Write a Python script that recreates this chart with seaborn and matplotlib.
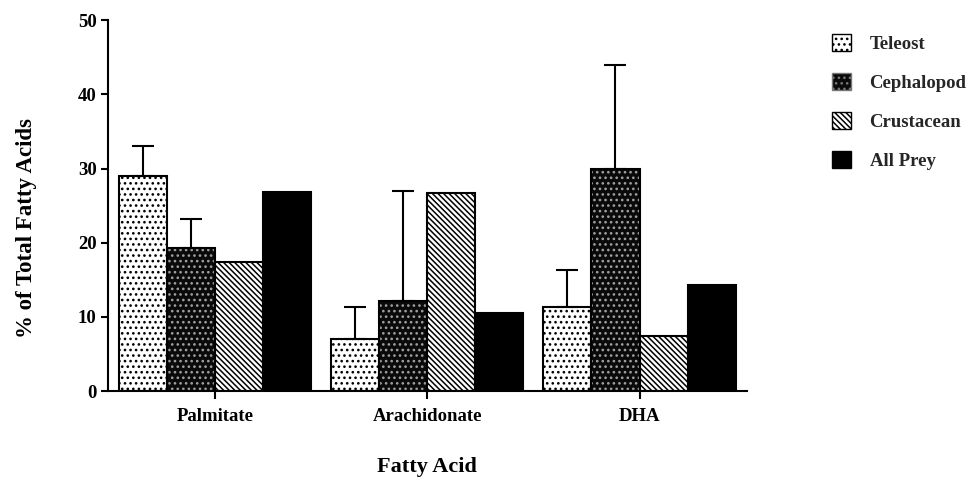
import numpy as np
import pandas as pd
import matplotlib
matplotlib.use("Agg")
import matplotlib.pyplot as plt
import seaborn as sns
from matplotlib.patches import Patch, Rectangle

# ---- data ----
acids = ["Palmitate", "Arachidonate", "DHA"]
prey = ["Teleost", "Cephalopod", "Crustacean", "All Prey"]
teleost = [29.0, 7.0, 11.4]
cephalopod = [19.3, 12.1, 30.0]
crustacean = [17.4, 26.7, 7.4]
all_prey = [26.8, 10.5, 14.3]
teleost_err = [4.0, 4.3, 4.9]
cephalopod_err = [3.9, 14.9, 13.9]
y_ticks = [0, 10, 20, 30, 40, 50]

sns.set_theme(style="ticks")
plt.rcParams['font.family'] = ['Liberation Serif', 'DejaVu Serif']
plt.rcParams['font.weight'] = 'bold'
plt.rcParams['hatch.linewidth'] = 1.1

rows = []
for name, vals in zip(prey, [teleost, cephalopod, crustacean, all_prey]):
    for a, v in zip(acids, vals):
        rows.append({"Fatty Acid": a, "Prey": name, "Value": v})
df = pd.DataFrame(rows)

fig = plt.figure(figsize=(9.71, 5.04), dpi=100)
ax = fig.add_axes([0.111, 0.224, 0.658, 0.736])
sns.barplot(data=df, x="Fatty Acid", y="Value", hue="Prey", order=acids,
            hue_order=prey, width=0.905, gap=0, ax=ax, legend=False,
            errorbar=None, palette=['white', '#111111', 'white', 'black'],
            saturation=1)

styles = [
    dict(face='white', hatch='...', hcol='black'),
    dict(face='#0a0a0a', hatch='...', hcol='#a0a0a0'),
    dict(face='white', hatch='\\\\\\\\\\\\', hcol='black'),
    dict(face='black', hatch='', hcol='black'),
]
for cont, st in zip(ax.containers, styles):
    for bar in cont:
        bar.set_facecolor(st['face'])
        bar.set_hatch(st['hatch'])
        bar.set_edgecolor(st['hcol'])
        bar.set_linewidth(0)
        ax.add_patch(Rectangle((bar.get_x(), bar.get_y()), bar.get_width(),
                               bar.get_height(), fill=False, edgecolor='black',
                               linewidth=1.5, zorder=bar.get_zorder() + 0.1))

for idx, errs in [(0, teleost_err), (1, cephalopod_err)]:
    bars = ax.containers[idx]
    xs = [b.get_x() + b.get_width() / 2 for b in bars]
    ys = [b.get_height() for b in bars]
    ax.errorbar(xs, ys, yerr=[np.zeros(len(errs)), errs], fmt='none',
                ecolor='black', elinewidth=1.5, capsize=8, capthick=1.5,
                zorder=1)

ax.set_ylim(0, 50)
ax.set_xlim(-0.505, 2.505)
ax.set_yticks(y_ticks)
ax.set_yticklabels([str(t) for t in y_ticks])
for s in ['top', 'right']:
    ax.spines[s].set_visible(False)
for s in ['left', 'bottom']:
    ax.spines[s].set_linewidth(1.5)
    ax.spines[s].set_color('black')
ax.tick_params(axis='y', length=5, width=1.5, labelsize=13.5, pad=3, colors='black')
ax.tick_params(axis='x', length=6, width=1.5, labelsize=13.5, pad=6, colors='black')

ax.set_ylabel('% of Total Fatty Acids', fontsize=16.5, fontweight='bold', color='black')
ax.yaxis.set_label_coords(-0.111, 0.44)
ax.set_xlabel('Fatty Acid', fontsize=16, fontweight='bold', labelpad=23, color='black')

handles = [Patch(facecolor=st['face'], hatch=st['hatch'], edgecolor='black', linewidth=1.0)
           for st in styles]
handles[1] = Patch(facecolor='#0a0a0a', hatch='...', edgecolor='#777777', linewidth=1.0)
fig.legend(handles, prey, loc='upper left', bbox_to_anchor=(832 / 971, 1 - 34 / 504),
           frameon=False, fontsize=13.5, handlelength=1.0, handleheight=1.0,
           handletextpad=1.0, labelspacing=1.08, borderpad=0, borderaxespad=0)

fig.savefig('out.png', dpi=100)
